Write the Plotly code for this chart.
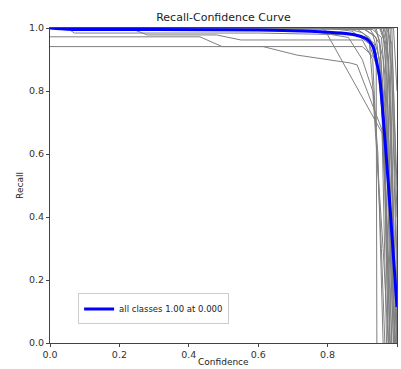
import plotly.graph_objects as go

# ---- data (confidence, recall) ----
mean_conf = [0.0, 0.05, 0.3, 0.6, 0.75, 0.84, 0.88, 0.908, 0.92, 0.931, 0.942, 0.951, 0.96, 0.974, 0.98, 0.99, 1.0]
mean_recall = [1.0, 0.996, 0.995, 0.994, 0.99, 0.984, 0.978, 0.968, 0.958, 0.94, 0.889, 0.835, 0.72, 0.52, 0.43, 0.27, 0.114]

class_conf = [
    [0, 0.05, 0.07, 0.60, 0.88, 0.92, 0.945, 0.96],
    [0, 0.23, 0.28, 0.48, 0.55, 0.90, 0.93, 0.955, 0.965],
    [0, 0.432, 0.496, 0.614, 0.712, 0.865, 0.885, 0.957, 0.97],
    [0, 0.496, 0.90, 0.94, 0.942],
    [0, 0.78, 0.792, 0.957, 0.965, 0.975],
    [0, 0.70, 0.86, 0.90, 0.93, 0.96, 0.975],
    [0, 0.90, 0.93, 0.95, 0.965, 0.975],
    [0, 0.92, 0.95, 0.97, 0.985],
    [0, 0.94, 0.96, 0.975, 0.99],
    [0, 0.95, 0.965, 0.98, 0.995],
    [0, 0.96, 0.975, 0.99, 1.0],
    [0, 0.97, 0.98, 0.995, 1.0],
    [0, 0.975, 0.985, 1.0],
    [0, 0.98, 0.99, 1.0],
    [0, 0.985, 0.995, 1.0],
    [0, 0.88, 0.92, 0.94, 0.96, 0.98, 0.985],
    [0, 0.85, 0.90, 0.935, 0.955, 0.97, 0.98],
    [0, 0.93, 0.955, 0.965, 0.98, 0.99],
    [0, 0.90, 0.94, 0.97, 0.99, 0.995],
    [0, 0.96, 0.97, 0.98, 0.995, 1.0],
    [0, 0.99, 1.0],
    [0, 0.97, 0.985, 1.0],
    [0, 0.95, 0.96, 0.97, 0.98, 0.99, 0.995],
    [0, 0.935, 0.95, 0.96, 0.97, 0.98],
    [0, 0.80, 0.87, 0.92, 0.95, 0.965, 0.98],
    [0, 0.965, 0.975, 0.985, 1.0],
    [0, 0.975, 0.98, 0.99, 0.998],
    [0, 0.955, 0.97, 0.985, 0.993],
]
class_recall = [
    [1.0, 1.0, 0.984, 0.984, 0.978, 0.96, 0.6, 0.0],
    [1.0, 1.0, 0.978, 0.978, 0.962, 0.962, 0.9, 0.3, 0.0],
    [0.972, 0.972, 0.941, 0.941, 0.914, 0.889, 0.883, 0.676, 0.0],
    [0.941, 0.941, 0.941, 0.90, 0.0],
    [1.0, 1.0, 0.994, 0.667, 0.5, 0.0],
    [1.0, 1.0, 0.97, 0.90, 0.80, 0.3, 0.0],
    [1.0, 1.0, 0.98, 0.90, 0.5, 0.0],
    [1.0, 1.0, 0.95, 0.6, 0.0],
    [1.0, 1.0, 0.9, 0.5, 0.0],
    [1.0, 1.0, 0.95, 0.4, 0.0],
    [1.0, 1.0, 0.9, 0.3, 0.05],
    [1.0, 1.0, 0.8, 0.2, 0.0],
    [1.0, 1.0, 0.85, 0.15],
    [1.0, 1.0, 0.7, 0.25],
    [1.0, 1.0, 0.6, 0.4],
    [1.0, 1.0, 0.97, 0.92, 0.7, 0.1, 0.0],
    [1.0, 1.0, 0.985, 0.95, 0.8, 0.4, 0.0],
    [1.0, 0.995, 0.97, 0.85, 0.3, 0.0],
    [1.0, 1.0, 0.97, 0.7, 0.1, 0.0],
    [1.0, 1.0, 0.98, 0.75, 0.1, 0.0],
    [1.0, 1.0, 0.8],
    [1.0, 1.0, 0.95, 0.5],
    [1.0, 1.0, 0.98, 0.85, 0.5, 0.2, 0.0],
    [1.0, 1.0, 0.96, 0.8, 0.35, 0.0],
    [1.0, 1.0, 0.99, 0.95, 0.85, 0.6, 0.0],
    [1.0, 1.0, 0.9, 0.5, 0.0],
    [1.0, 1.0, 0.9, 0.45, 0.0],
    [1.0, 1.0, 0.92, 0.35, 0.0],
]

x_ticks = [0.0, 0.2, 0.4, 0.6, 0.8, 1.0]
y_ticks = [0.0, 0.2, 0.4, 0.6, 0.8, 1.0]
tick_text = ["0.0", "0.2", "0.4", "0.6", "0.8", "1.0"]

fig = go.Figure()
for cx, cy in zip(class_conf, class_recall):
    fig.add_trace(go.Scatter(x=cx, y=cy, mode="lines",
                             line=dict(color="#808080", width=1),
                             showlegend=False, hoverinfo="skip"))
fig.add_trace(go.Scatter(x=mean_conf, y=mean_recall, mode="lines",
                         line=dict(color="#0000ff", width=3, shape="spline", smoothing=0.6),
                         name="all classes 1.00 at 0.000"))

font = "DejaVu Sans, sans-serif"
fig.update_layout(
    width=401, height=369,
    margin=dict(l=50, r=4, t=28, b=26, autoexpand=False),
    paper_bgcolor="white", plot_bgcolor="white",
    font=dict(family=font, size=9, color="#222"),
    title=dict(text="Recall-Confidence Curve", x=(50 + 397) / 2 / 401, xanchor="center",
               y=1 - 17 / 369, yanchor="middle", font=dict(size=11, color="#222")),
    legend=dict(x=0.081, y=0.108, xanchor="left", yanchor="middle",
                bordercolor="#cccccc", borderwidth=1, bgcolor="white",
                font=dict(size=8.5, color="#222"), itemwidth=30),
    showlegend=True,
    annotations=[dict(text="Confidence", xref="paper", yref="paper", x=0.5,
                      y=-(362 - 343) / 315, xanchor="center", yanchor="middle",
                      showarrow=False, font=dict(size=9, color="#222"))],
)
fig.update_xaxes(range=[0, 1], tickvals=x_ticks, ticktext=tick_text, automargin=False,
                 showgrid=False, zeroline=False, showline=True, mirror=True,
                 linecolor="#444", linewidth=1, ticks="outside", ticklen=3,
                 tickcolor="#444", tickfont=dict(size=9.5, color="#333"))
fig.update_yaxes(range=[0, 1], tickvals=y_ticks, ticktext=tick_text, automargin=False,
                 showgrid=False, zeroline=False, showline=True, mirror=True,
                 linecolor="#444", linewidth=1, ticks="outside", ticklen=3,
                 tickcolor="#444", tickfont=dict(size=9.5, color="#333"),
                 title=dict(text="Recall", font=dict(size=9, color="#222"), standoff=3))

fig.write_html("out.html")
